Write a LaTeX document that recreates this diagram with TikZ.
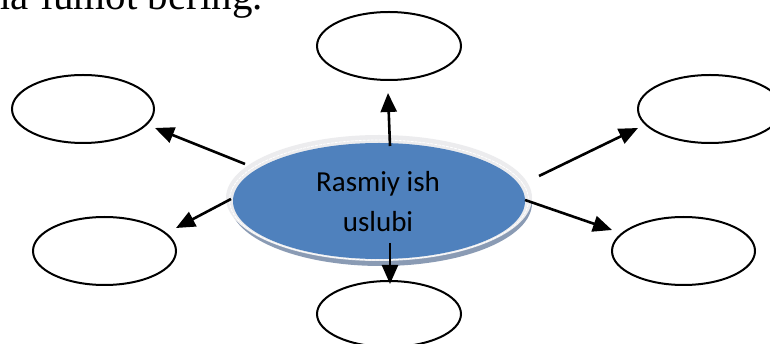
\documentclass[tikz,border=0pt]{standalone}
\usepackage{fontspec}
\setmainfont{Liberation Serif}
\newfontfamily\calib{Carlito}
\usetikzlibrary{arrows.meta,shapes.geometric}
\definecolor{hubblue}{RGB}{79,129,189}
\definecolor{rimgray}{RGB}{236,236,238}
\definecolor{shadowgray}{RGB}{138,155,180}
\tikzset{
  leaf/.style={draw=black, line width=2pt, ellipse, fill=white},
  conn/.style={line width=2.6pt, -{Triangle[length=19pt,width=16pt]}},
}
\begin{document}
\begin{tikzpicture}[x=1pt,y=-1pt]
\clip (0,0) rectangle (770,344);
\fill[white] (0,0) rectangle (770,344);
% heading text (cut off at top)
\node[anchor=base east, inner sep=0, font=\fontsize{41}{41}\selectfont] (head) at (263,10) {ma'lumot bering.};
% central ellipse with rim and shadow
\fill[shadowgray] (381,203) ellipse [x radius=151, y radius=63];
\fill[rimgray] (379,198) ellipse [x radius=153, y radius=63];
\draw[white, line width=0.8pt, dash pattern=on 3pt off 1pt] (379,200) ellipse [x radius=149.5, y radius=60];
\node[ellipse, fill=hubblue, minimum width=292, minimum height=116, inner sep=0] (hub) at (379,201) {};
\node[anchor=base, inner sep=0, font=\calib\fontsize{29}{29}\selectfont] (t1) at (378,192) {Rasmiy ish};
\node[anchor=base, inner sep=0, font=\calib\fontsize{29}{29}\selectfont] (t2) at (378,232) {uslubi};
% leaf ellipses
\node[leaf, minimum width=144, minimum height=68] (top) at (389,46) {};
\node[leaf, minimum width=144, minimum height=66] (bot) at (389,314) {};
\node[leaf, minimum width=142, minimum height=68] (lt) at (83,109) {};
\node[leaf, minimum width=143, minimum height=68] (lb) at (104.5,251) {};
\node[leaf, minimum width=144, minimum height=68] (rt) at (710,109) {};
\node[leaf, minimum width=143, minimum height=68] (rb) at (683.5,251) {};
% connector endpoints
\coordinate (sTop) at (390,146);
\coordinate (eTop) at (388,93);
\coordinate (sBot) at (390,243);
\coordinate (eBot) at (390,284);
\coordinate (sLT) at (245,164);
\coordinate (eLT) at (155,128);
\coordinate (sLB) at (231,199);
\coordinate (eLB) at (176,228);
\coordinate (sRT) at (539,176);
\coordinate (eRT) at (638,128);
\coordinate (sRB) at (525,200);
\coordinate (eRB) at (612,230);
\draw[conn] (sTop) -- (eTop);
\draw[conn] (sBot) -- (eBot);
\draw[conn] (sLT) -- (eLT);
\draw[conn] (sLB) -- (eLB);
\draw[conn] (sRT) -- (eRT);
\draw[conn] (sRB) -- (eRB);
\end{tikzpicture}
\end{document}
